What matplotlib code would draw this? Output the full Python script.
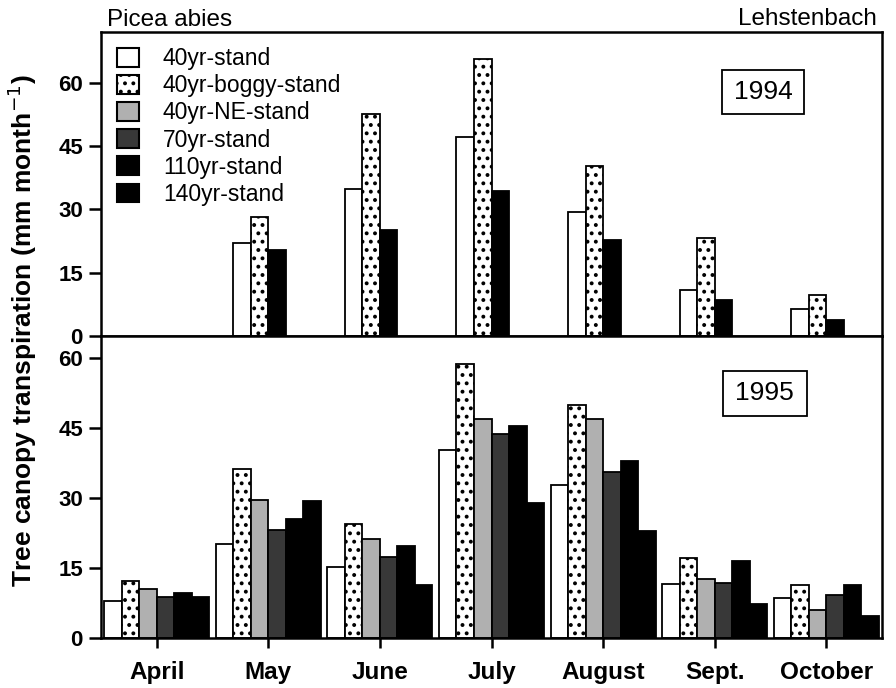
import numpy as np
import matplotlib.pyplot as plt
from matplotlib.patches import Patch, Rectangle

plt.rcParams['font.family'] = ['Liberation Sans', 'DejaVu Sans']
plt.rcParams['hatch.linewidth'] = 1.6
plt.rcParams['hatch.color'] = 'black'

# ---- data (mm month-1) ----
months = ['April', 'May', 'June', 'July', 'August', 'Sept.', 'October']
stands = ['40yr-stand', '40yr-boggy-stand', '40yr-NE-stand',
          '70yr-stand', '110yr-stand', '140yr-stand']

# 1994: only three stands measured
y94_40yr = [np.nan, 22.0, 34.8, 47.1, 29.3, 11.0, 6.5]
y94_boggy = [np.nan, 28.1, 52.5, 65.5, 40.2, 23.2, 9.7]
y94_black = [np.nan, 20.3, 25.1, 34.4, 22.7, 8.5, 3.7]

# 1995: all six stands
y95_40yr = [7.9, 20.1, 15.2, 40.3, 32.7, 11.6, 8.6]
y95_boggy = [12.1, 36.2, 24.3, 58.7, 49.9, 17.0, 11.2]
y95_ne = [10.4, 29.5, 21.1, 46.9, 46.9, 12.5, 6.0]
y95_70yr = [8.8, 23.2, 17.3, 43.6, 35.6, 11.8, 9.2]
y95_110yr = [9.6, 25.5, 19.6, 45.4, 37.9, 16.4, 11.3]
y95_140yr = [8.8, 29.3, 11.3, 28.8, 22.8, 7.2, 4.7]

# ---- style per stand ----
faces = ['white', 'white', '#b0b0b0', '#383838', 'black', 'black']
hatches = [None, '..', None, None, None, None]

x = np.arange(len(months))
w = 0.157


def slot(i):
    # position of the i-th bar of six inside a month group
    return x + (i - 2.5) * w


fig = plt.figure(figsize=(8.96, 6.88), dpi=100)
ax1 = fig.add_axes([0.1127, 0.5116, 0.8717, 0.4419])
ax2 = fig.add_axes([0.1127, 0.0731, 0.8717, 0.4385])

bar_kw = dict(width=w, edgecolor='black', linewidth=1.3, align='center')

# top panel: 1994
ax1.bar(slot(1), y94_40yr, facecolor=faces[0], **bar_kw)
ax1.bar(slot(2), y94_boggy, facecolor=faces[1], hatch=hatches[1], **bar_kw)
ax1.bar(slot(3), y94_black, facecolor='black', **bar_kw)

# bottom panel: 1995
series95 = [y95_40yr, y95_boggy, y95_ne, y95_70yr, y95_110yr, y95_140yr]
for i, vals in enumerate(series95):
    ax2.bar(slot(i), vals, facecolor=faces[i], hatch=hatches[i], **bar_kw)

for ax in (ax1, ax2):
    ax.set_xlim(-0.5, len(months) - 0.5)
    ax.set_yticks([0, 15, 30, 45, 60])
    for s in ax.spines.values():
        s.set_linewidth(1.8)
    ax.tick_params(axis='y', direction='out', length=8.5, width=1.8,
                   labelsize=16, pad=4.5)
    for lab in ax.get_yticklabels():
        lab.set_fontweight('bold')

ax1.set_ylim(0, 72)
ax2.set_ylim(0, 64.7)

ax1.set_xticks([])
ax2.set_xticks(x)
ax2.set_xticklabels(months, fontsize=17.5, fontweight='bold')
ax2.tick_params(axis='x', direction='out', length=7.5, width=1.8, pad=9)

# year boxes
for ax, year, (bx0, by0, bx1, by1) in [(ax1, '1994', (0.795, 0.730, 0.900, 0.875)),
                                        (ax2, '1995', (0.796, 0.735, 0.904, 0.884))]:
    ax.add_patch(Rectangle((bx0, by0), bx1 - bx0, by1 - by0, transform=ax.transAxes,
                           facecolor='white', edgecolor='black', linewidth=1.3, zorder=3))
    ax.text((bx0 + bx1) / 2, (by0 + by1) / 2, year, transform=ax.transAxes,
            ha='center', va='center', fontsize=19, zorder=4)

# legend
handles = [Patch(facecolor=faces[i], edgecolor='black', hatch=hatches[i], linewidth=1.5)
           for i in range(len(stands))]
ax1.legend(handles, stands, loc='upper left', bbox_to_anchor=(0.0205, 0.95),
           frameon=False, fontsize=16.5, handlelength=0.95, handleheight=0.87,
           handletextpad=1.05, labelspacing=0.18, borderpad=0, borderaxespad=0)

fig.text(0.119, 0.962, 'Picea abies', fontsize=17.5, ha='left', va='baseline')
fig.text(0.979, 0.964, 'Lehstenbach', fontsize=17.5, ha='right', va='baseline')
fig.text(0.025, 0.52, 'Tree canopy transpiration (mm month$^{-1}$)', rotation=90,
         fontsize=19, fontweight='bold', ha='center', va='center')

fig.savefig('out.png', dpi=100)
